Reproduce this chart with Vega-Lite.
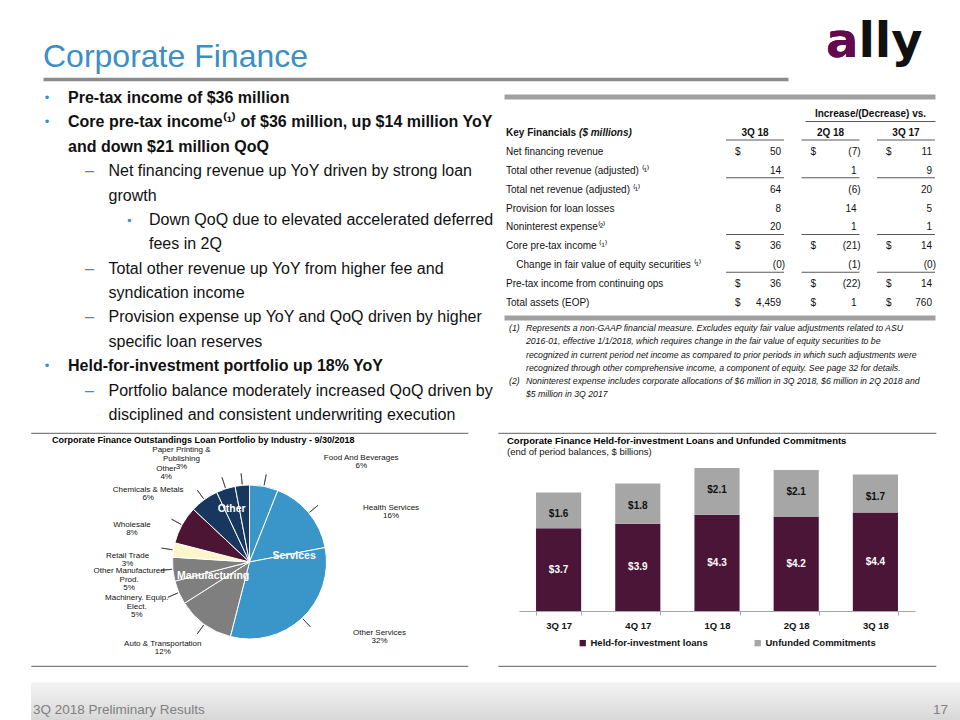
{
  "$schema": "https://vega.github.io/schema/vega-lite/v6.json",
  "padding": {"left": 30, "top": 0, "right": 0, "bottom": 0},
  "background": "#ffffff",
  "spacing": 0,
  "config": {
    "font": "Liberation Sans",
    "view": {"stroke": null},
    "concat": {"spacing": 0},
    "text": {"font": "Liberation Sans", "color": "#111111"},
    "title": {"font": "Liberation Sans", "subtitleFont": "Liberation Sans"},
    "axis": {"labelFont": "Liberation Sans"},
    "legend": {"labelFont": "Liberation Sans"}
  },
  "datasets": {
    "bullets": [
      {"line": 1, "item": 1, "level": 1, "text": "Pre-tax income of $36 million"},
      {"line": 2, "item": 2, "level": 1, "text": "Core pre-tax income⁽¹⁾ of $36 million, up $14 million YoY"},
      {"line": 3, "item": 2, "level": 1, "text": "and down $21 million QoQ"},
      {"line": 4, "item": 3, "level": 2, "text": "Net financing revenue up YoY driven by strong loan"},
      {"line": 5, "item": 3, "level": 2, "text": "growth"},
      {"line": 6, "item": 4, "level": 3, "text": "Down QoQ due to elevated accelerated deferred"},
      {"line": 7, "item": 4, "level": 3, "text": "fees in 2Q"},
      {"line": 8, "item": 5, "level": 2, "text": "Total other revenue up YoY from higher fee and"},
      {"line": 9, "item": 5, "level": 2, "text": "syndication income"},
      {"line": 10, "item": 6, "level": 2, "text": "Provision expense up YoY and QoQ driven by higher"},
      {"line": 11, "item": 6, "level": 2, "text": "specific loan reserves"},
      {"line": 12, "item": 7, "level": 1, "text": "Held-for-investment portfolio up 18% YoY"},
      {"line": 13, "item": 8, "level": 2, "text": "Portfolio balance moderately increased QoQ driven by"},
      {"line": 14, "item": 8, "level": 2, "text": "disciplined and consistent underwriting execution"}
    ],
    "table": [
      {"r": 2, "indent": 0, "cur": true, "label": "Net financing revenue", "3Q 18": "50", "2Q 18": "(7)", "3Q 17": "11"},
      {"r": 3, "indent": 0, "cur": false, "label": "Total other revenue (adjusted) ⁽¹⁾", "3Q 18": "14", "2Q 18": "1", "3Q 17": "9"},
      {"r": 4, "indent": 0, "cur": false, "label": "Total net revenue (adjusted) ⁽¹⁾", "3Q 18": "64", "2Q 18": "(6)", "3Q 17": "20"},
      {"r": 5, "indent": 0, "cur": false, "label": "Provision for loan losses", "3Q 18": "8", "2Q 18": "14", "3Q 17": "5"},
      {"r": 6, "indent": 0, "cur": false, "label": "Noninterest expense⁽²⁾", "3Q 18": "20", "2Q 18": "1", "3Q 17": "1"},
      {"r": 7, "indent": 0, "cur": true, "label": "Core pre-tax income ⁽¹⁾", "3Q 18": "36", "2Q 18": "(21)", "3Q 17": "14"},
      {"r": 8, "indent": 1, "cur": false, "label": "Change in fair value of equity securities ⁽¹⁾", "3Q 18": "(0)", "2Q 18": "(1)", "3Q 17": "(0)"},
      {"r": 9, "indent": 0, "cur": true, "label": "Pre-tax income from continuing ops", "3Q 18": "36", "2Q 18": "(22)", "3Q 17": "14"},
      {"r": 10, "indent": 0, "cur": true, "label": "Total assets (EOP)", "3Q 18": "4,459", "2Q 18": "1", "3Q 17": "760"}
    ],
    "notes": [
      {"line": 1, "note": "(1)", "text": "Represents a non-GAAP financial measure. Excludes equity fair value adjustments related to ASU"},
      {"line": 2, "text": "2016-01, effective 1/1/2018, which requires change in the fair value of equity securities to be"},
      {"line": 3, "text": "recognized in current period net income as compared to prior periods in which such adjustments were"},
      {"line": 4, "text": "recognized through other comprehensive income, a component of equity. See page 32 for details."},
      {"line": 5, "note": "(2)", "text": "Noninterest expense includes corporate allocations of $6 million in 3Q 2018, $6 million in 2Q 2018 and"},
      {"line": 6, "text": "$5 million in 3Q 2017"}
    ],
    "pie": [
      {"name": "Food And Beverages", "group": "Services", "share": 0.06},
      {"name": "Health Services", "group": "Services", "share": 0.16},
      {"name": "Other Services", "group": "Services", "share": 0.32},
      {"name": "Auto & Transportation", "group": "Manufacturing", "share": 0.12},
      {"name": "Machinery. Equip.\nElect.", "group": "Manufacturing", "share": 0.05},
      {"name": "Other Manufactured\nProd.", "group": "Manufacturing", "share": 0.05},
      {"name": "Retail Trade", "group": "Retail Trade", "share": 0.03},
      {"name": "Wholesale", "group": "Wholesale", "share": 0.08},
      {"name": "Chemicals & Metals", "group": "Other", "share": 0.06},
      {"name": "Other", "group": "Other", "share": 0.04},
      {"name": "Paper Printing &\nPublishing", "group": "Other", "share": 0.03}
    ],
    "loans": [
      {"quarter": "3Q 17", "series": "Held-for-investment loans", "value": 3.7},
      {"quarter": "3Q 17", "series": "Unfunded Commitments", "value": 1.6},
      {"quarter": "4Q 17", "series": "Held-for-investment loans", "value": 3.9},
      {"quarter": "4Q 17", "series": "Unfunded Commitments", "value": 1.8},
      {"quarter": "1Q 18", "series": "Held-for-investment loans", "value": 4.3},
      {"quarter": "1Q 18", "series": "Unfunded Commitments", "value": 2.1},
      {"quarter": "2Q 18", "series": "Held-for-investment loans", "value": 4.2},
      {"quarter": "2Q 18", "series": "Unfunded Commitments", "value": 2.1},
      {"quarter": "3Q 18", "series": "Held-for-investment loans", "value": 4.4},
      {"quarter": "3Q 18", "series": "Unfunded Commitments", "value": 1.7}
    ]
  },
  "vconcat": [
    {
      "width": 930,
      "height": 88,
      "data": {"values": [{"title": "Corporate Finance", "logo": "ally"}]},
      "transform": [{"fold": ["title", "logo"], "as": ["part", "text"]}],
      "encoding": {
        "x": {
          "field": "part", "type": "nominal",
          "scale": {"type": "point", "domain": ["title", "logo"], "range": [12, 757], "padding": 0},
          "axis": {"orient": "bottom", "offset": -9, "title": null, "labels": false, "ticks": false, "grid": false, "domainColor": "#8c8c8c", "domainWidth": 3.5}
        }
      },
      "layer": [
        {
          "transform": [{"filter": "datum.part === 'title'"}],
          "mark": {"type": "text", "align": "left", "baseline": "middle", "dy": 12.5, "fontSize": 32, "color": "#3b8fc4"},
          "encoding": {"text": {"field": "text"}}
        },
        {
          "transform": [{"filter": "datum.part === 'logo'"}],
          "mark": {"type": "text", "align": "left", "baseline": "alphabetic", "dx": 38, "dy": 13, "fontSize": 48, "fontWeight": "bold", "font": "DejaVu Sans", "color": "#111111"},
          "encoding": {"text": {"field": "text"}}
        },
        {
          "transform": [{"filter": "datum.part === 'logo'"}],
          "mark": {"type": "text", "text": "a", "align": "left", "baseline": "alphabetic", "dx": 38, "dy": 13, "fontSize": 48, "fontWeight": "bold", "font": "DejaVu Sans", "color": "#64094f"}
        }
      ]
    },
    {
      "hconcat": [
        {
          "width": 473,
          "height": 344,
          "data": {"name": "bullets"},
          "encoding": {
            "x": {"field": "level", "type": "ordinal", "scale": {"type": "point", "domain": [1, 2, 3], "range": [37, 118], "padding": 0}, "axis": null},
            "y": {"field": "line", "type": "ordinal", "scale": {"type": "point", "domain": [1, 2, 3, 4, 5, 6, 7, 8, 9, 10, 11, 12, 13, 14], "range": [10, 327], "padding": 0}, "axis": null}
          },
          "layer": [
            {
              "transform": [{"filter": "datum.level === 1"}],
              "mark": {"type": "text", "align": "left", "baseline": "middle", "fontSize": 16, "fontWeight": "bold", "color": "#111111"},
              "encoding": {"text": {"field": "text"}}
            },
            {
              "transform": [{"filter": "datum.level > 1"}],
              "mark": {"type": "text", "align": "left", "baseline": "middle", "fontSize": 16, "color": "#111111"},
              "encoding": {"text": {"field": "text"}}
            },
            {
              "transform": [{"aggregate": [{"op": "min", "field": "line", "as": "line"}], "groupby": ["item", "level"]}, {"filter": "datum.level === 1"}],
              "mark": {"type": "text", "text": "•", "align": "center", "baseline": "middle", "dx": -21, "fontSize": 13, "color": "#3b8fc4"}
            },
            {
              "transform": [{"aggregate": [{"op": "min", "field": "line", "as": "line"}], "groupby": ["item", "level"]}, {"filter": "datum.level === 2"}],
              "mark": {"type": "text", "text": "–", "align": "center", "baseline": "middle", "dx": -19, "fontSize": 16, "color": "#3b8fc4"}
            },
            {
              "transform": [{"aggregate": [{"op": "min", "field": "line", "as": "line"}], "groupby": ["item", "level"]}, {"filter": "datum.level === 3"}],
              "mark": {"type": "text", "text": "▪", "align": "center", "baseline": "middle", "dx": -20, "fontSize": 12, "color": "#3b8fc4"}
            }
          ]
        },
        {
          "width": 431,
          "height": 344,
          "layer": [
            {
              "data": {"values": [{"r": 1, "indent": 0, "label": "Key Financials", "unit": "($ millions)"}]},
              "mark": {"type": "text", "align": "left", "baseline": "middle", "fontSize": 10, "fontWeight": "bold"},
              "encoding": {
                "x": {"field": "indent", "type": "quantitative", "scale": {"domain": [-0.2, 41.9], "range": [0, 431], "nice": false, "zero": false},
                      "axis": {"orient": "top", "offset": -8.5, "title": null, "labels": false, "ticks": false, "grid": false, "domainColor": "#a0a0a0", "domainWidth": 5}},
                "y": {"field": "r", "type": "ordinal", "scale": {"type": "point", "domain": [0, 1, 2, 3, 4, 5, 6, 7, 8, 9, 10], "range": [26, 215], "padding": 0}, "axis": null},
                "text": {"field": "label"}
              }
            },
            {
              "data": {"values": [{"r": 1, "indent": 0, "label": "Key Financials", "unit": "($ millions)"}]},
              "mark": {"type": "text", "align": "left", "baseline": "middle", "dx": 73, "fontSize": 10, "fontWeight": "bold", "fontStyle": "italic"},
              "encoding": {
                "x": {"field": "indent", "type": "quantitative", "scale": {"domain": [-0.2, 41.9], "range": [0, 431], "nice": false, "zero": false}, "axis": null},
                "y": {"field": "r", "type": "ordinal", "scale": {"type": "point", "domain": [0, 1, 2, 3, 4, 5, 6, 7, 8, 9, 10], "range": [26, 215], "padding": 0}, "axis": null},
                "text": {"field": "unit"}
              }
            },
            {
              "data": {"name": "table"},
              "mark": {"type": "text", "align": "left", "baseline": "middle", "fontSize": 10},
              "encoding": {
                "x": {"field": "indent", "type": "quantitative", "scale": {"domain": [-0.2, 41.9], "range": [0, 431], "nice": false, "zero": false},
                      "axis": {"orient": "bottom", "offset": -114.5, "title": null, "labels": false, "ticks": false, "grid": false, "domainColor": "#a0a0a0", "domainWidth": 5}},
                "y": {"field": "r", "type": "ordinal", "scale": {"type": "point", "domain": [0, 1, 2, 3, 4, 5, 6, 7, 8, 9, 10], "range": [26, 215], "padding": 0}, "axis": null},
                "text": {"field": "label"}
              }
            },
            {
              "data": {"values": [{"r": 1, "col": "3Q 18"}, {"r": 1, "col": "2Q 18"}, {"r": 1, "col": "3Q 17"}]},
              "mark": {"type": "text", "align": "center", "baseline": "middle", "fontSize": 10, "fontWeight": "bold"},
              "encoding": {
                "x": {"field": "col", "type": "nominal", "scale": {"type": "band", "domain": ["3Q 18", "2Q 18", "3Q 17"], "range": [222, 431], "paddingInner": 0.23, "paddingOuter": 0}, "axis": null},
                "y": {"field": "r", "type": "ordinal", "scale": {"type": "point", "domain": [0, 1, 2, 3, 4, 5, 6, 7, 8, 9, 10], "range": [26, 215], "padding": 0}, "axis": null},
                "text": {"field": "col"}
              }
            },
            {
              "data": {"values": [{"r": 1, "col": "3Q 18"}, {"r": 1, "col": "2Q 18"}, {"r": 1, "col": "3Q 17"}]},
              "mark": {"type": "tick", "orient": "horizontal", "size": 58, "thickness": 1, "color": "#111111", "yOffset": 7},
              "encoding": {
                "x": {"field": "col", "type": "nominal", "scale": {"type": "band", "domain": ["3Q 18", "2Q 18", "3Q 17"], "range": [222, 431], "paddingInner": 0.23, "paddingOuter": 0}, "axis": null},
                "y": {"field": "r", "type": "ordinal", "scale": {"type": "point", "domain": [0, 1, 2, 3, 4, 5, 6, 7, 8, 9, 10], "range": [26, 215], "padding": 0}, "axis": null}
              }
            },
            {
              "data": {"values": [{"r": 0, "col": "2Q 18", "text": "Increase/(Decrease) vs."}]},
              "mark": {"type": "text", "align": "center", "baseline": "middle", "dx": 40, "fontSize": 10, "fontWeight": "bold"},
              "encoding": {
                "x": {"field": "col", "type": "nominal", "scale": {"type": "band", "domain": ["3Q 18", "2Q 18", "3Q 17"], "range": [222, 431], "paddingInner": 0.23, "paddingOuter": 0}, "axis": null},
                "y": {"field": "r", "type": "ordinal", "scale": {"type": "point", "domain": [0, 1, 2, 3, 4, 5, 6, 7, 8, 9, 10], "range": [26, 215], "padding": 0}, "axis": null},
                "text": {"field": "text"}
              }
            },
            {
              "data": {"values": [{"r": 0, "col": "2Q 18"}]},
              "mark": {"type": "tick", "orient": "horizontal", "size": 130, "thickness": 1, "color": "#111111", "xOffset": 40, "yOffset": 7.5},
              "encoding": {
                "x": {"field": "col", "type": "nominal", "scale": {"type": "band", "domain": ["3Q 18", "2Q 18", "3Q 17"], "range": [222, 431], "paddingInner": 0.23, "paddingOuter": 0}, "axis": null},
                "y": {"field": "r", "type": "ordinal", "scale": {"type": "point", "domain": [0, 1, 2, 3, 4, 5, 6, 7, 8, 9, 10], "range": [26, 215], "padding": 0}, "axis": null}
              }
            },
            {
              "data": {"name": "table"},
              "transform": [{"fold": ["3Q 18", "2Q 18", "3Q 17"], "as": ["col", "value"]}, {"filter": "indexof(datum.value, ')') >= 0"}],
              "mark": {"type": "text", "align": "right", "baseline": "middle", "dx": 1, "fontSize": 10},
              "encoding": {
                "x": {"field": "col", "type": "nominal", "bandPosition": 1, "scale": {"type": "band", "domain": ["3Q 18", "2Q 18", "3Q 17"], "range": [222, 431], "paddingInner": 0.23, "paddingOuter": 0}, "axis": null},
                "y": {"field": "r", "type": "ordinal", "scale": {"type": "point", "domain": [0, 1, 2, 3, 4, 5, 6, 7, 8, 9, 10], "range": [26, 215], "padding": 0}, "axis": null},
                "text": {"field": "value"}
              }
            },
            {
              "data": {"name": "table"},
              "transform": [{"fold": ["3Q 18", "2Q 18", "3Q 17"], "as": ["col", "value"]}, {"filter": "indexof(datum.value, ')') < 0"}],
              "mark": {"type": "text", "align": "right", "baseline": "middle", "dx": -3, "fontSize": 10},
              "encoding": {
                "x": {"field": "col", "type": "nominal", "bandPosition": 1, "scale": {"type": "band", "domain": ["3Q 18", "2Q 18", "3Q 17"], "range": [222, 431], "paddingInner": 0.23, "paddingOuter": 0}, "axis": null},
                "y": {"field": "r", "type": "ordinal", "scale": {"type": "point", "domain": [0, 1, 2, 3, 4, 5, 6, 7, 8, 9, 10], "range": [26, 215], "padding": 0}, "axis": null},
                "text": {"field": "value"}
              }
            },
            {
              "data": {"name": "table"},
              "transform": [{"filter": "datum.cur"}, {"fold": ["3Q 18", "2Q 18", "3Q 17"], "as": ["col", "value"]}],
              "mark": {"type": "text", "text": "$", "align": "left", "baseline": "middle", "dx": 9, "fontSize": 10},
              "encoding": {
                "x": {"field": "col", "type": "nominal", "bandPosition": 0, "scale": {"type": "band", "domain": ["3Q 18", "2Q 18", "3Q 17"], "range": [222, 431], "paddingInner": 0.23, "paddingOuter": 0}, "axis": null},
                "y": {"field": "r", "type": "ordinal", "scale": {"type": "point", "domain": [0, 1, 2, 3, 4, 5, 6, 7, 8, 9, 10], "range": [26, 215], "padding": 0}, "axis": null}
              }
            },
            {
              "data": {"name": "table"},
              "transform": [{"filter": "indexof([3, 6, 8], datum.r) >= 0"}, {"fold": ["3Q 18", "2Q 18", "3Q 17"], "as": ["col", "value"]}],
              "mark": {"type": "tick", "orient": "horizontal", "size": 58, "thickness": 1, "color": "#111111", "yOffset": 7},
              "encoding": {
                "x": {"field": "col", "type": "nominal", "scale": {"type": "band", "domain": ["3Q 18", "2Q 18", "3Q 17"], "range": [222, 431], "paddingInner": 0.23, "paddingOuter": 0}, "axis": null},
                "y": {"field": "r", "type": "ordinal", "scale": {"type": "point", "domain": [0, 1, 2, 3, 4, 5, 6, 7, 8, 9, 10], "range": [26, 215], "padding": 0}, "axis": null}
              }
            },
            {
              "data": {"name": "notes"},
              "transform": [{"fold": ["note", "text"], "as": ["part", "value"]}, {"filter": "isValid(datum.value)"}],
              "mark": {"type": "text", "align": "left", "baseline": "middle", "fontSize": 8.7, "fontStyle": "italic", "color": "#111111"},
              "encoding": {
                "x": {"field": "part", "type": "nominal", "scale": {"type": "point", "domain": ["note", "text"], "range": [5, 22], "padding": 0}, "axis": null},
                "y": {"field": "line", "type": "ordinal", "scale": {"type": "point", "domain": [1, 2, 3, 4, 5, 6], "range": [240.3, 306], "padding": 0}, "axis": null},
                "text": {"field": "value"}
              }
            }
          ],
          "resolve": {"scale": {"x": "independent", "y": "independent"}, "axis": {"x": "independent", "y": "independent"}}
        }
      ],
      "spacing": 0,
      "bounds": "flush"
    },
    {
      "hconcat": [
        {
          "width": 437,
          "height": 233,
          "view": {"stroke": "#7f7f7f", "strokeWidth": 1.2, "strokeDash": [437, 233, 437, 233]},
          "title": {"text": "Corporate Finance Outstandings Loan Portfolio by Industry - 9/30/2018", "anchor": "start", "frame": "group", "dx": 21, "offset": -11.5, "fontSize": 9, "fontWeight": "bold", "color": "#000000"},
          "data": {"name": "pie"},
          "transform": [{"window": [{"op": "row_number", "as": "idx"}]}],
          "encoding": {
            "x": {"datum": 0, "type": "quantitative", "scale": {"domain": [-1, 1], "nice": false, "zero": false}, "axis": null},
            "y": {"datum": 0, "type": "quantitative", "scale": {"domain": [-0.8064, 1], "nice": false, "zero": false}, "axis": null},
            "theta": {"field": "share", "type": "quantitative", "stack": true},
            "order": {"field": "idx", "type": "quantitative"}
          },
          "layer": [
            {
              "mark": {"type": "arc", "outerRadius": 77, "stroke": "#ffffff", "strokeWidth": 1},
              "encoding": {
                "color": {"field": "group", "type": "nominal", "scale": {"domain": ["Services", "Manufacturing", "Retail Trade", "Wholesale", "Other"], "range": ["#3a96c8", "#7f7f7f", "#fdf5cb", "#4b1533", "#17375e"]}, "legend": null}
              }
            },
            {
              "mark": {"type": "arc", "innerRadius": 78, "outerRadius": 89, "padAngle": 3, "fillOpacity": 0, "stroke": "#333333", "strokeWidth": 0.7}
            },
            {
              "mark": {"type": "text", "radius": 150, "align": "center", "baseline": "bottom", "fontSize": 8, "color": "#111111", "clip": true},
              "encoding": {
                "theta": {"field": "share", "type": "quantitative", "stack": true, "scale": {"range": [0.733, 4.311]}},
                "text": {"field": "name"},
                "opacity": {"condition": {"test": "datum.group === 'Services'", "value": 1}, "value": 0}
              }
            },
            {
              "mark": {"type": "text", "radius": 150, "align": "center", "baseline": "top", "fontSize": 8, "color": "#111111", "clip": true},
              "encoding": {
                "theta": {"field": "share", "type": "quantitative", "stack": true, "scale": {"range": [0.733, 4.311]}},
                "text": {"field": "share", "type": "quantitative", "format": ".0%"},
                "opacity": {"condition": {"test": "datum.group === 'Services'", "value": 1}, "value": 0}
              }
            },
            {
              "mark": {"type": "text", "radius": 122, "align": "center", "baseline": "bottom", "fontSize": 8, "color": "#111111", "clip": true},
              "encoding": {
                "theta": {"field": "share", "type": "quantitative", "stack": true, "scale": {"range": [1.19, 5.76]}},
                "text": {"field": "name"},
                "opacity": {"condition": {"test": "datum.group !== 'Services' && indexof(datum.name, '\\n') < 0", "value": 1}, "value": 0}
              }
            },
            {
              "mark": {"type": "text", "radius": 122, "align": "center", "baseline": "top", "fontSize": 8, "color": "#111111", "clip": true},
              "encoding": {
                "theta": {"field": "share", "type": "quantitative", "stack": true, "scale": {"range": [1.19, 5.76]}},
                "text": {"field": "share", "type": "quantitative", "format": ".0%"},
                "opacity": {"condition": {"test": "datum.group !== 'Services' && indexof(datum.name, '\\n') < 0", "value": 1}, "value": 0}
              }
            },
            {
              "mark": {"type": "text", "radius": 122, "align": "center", "baseline": "bottom", "dy": -7, "lineBreak": "\n", "lineHeight": 9, "fontSize": 8, "color": "#111111", "clip": true},
              "encoding": {
                "theta": {"field": "share", "type": "quantitative", "stack": true, "scale": {"range": [1.19, 5.76]}},
                "text": {"field": "name"},
                "opacity": {"condition": {"test": "indexof(datum.name, '\\n') >= 0", "value": 1}, "value": 0}
              }
            },
            {
              "mark": {"type": "text", "radius": 122, "align": "center", "baseline": "top", "dy": 2, "fontSize": 8, "color": "#111111", "clip": true},
              "encoding": {
                "theta": {"field": "share", "type": "quantitative", "stack": true, "scale": {"range": [1.19, 5.76]}},
                "text": {"field": "share", "type": "quantitative", "format": ".0%"},
                "opacity": {"condition": {"test": "indexof(datum.name, '\\n') >= 0", "value": 1}, "value": 0}
              }
            },
            {
              "transform": [{"aggregate": [{"op": "sum", "field": "share", "as": "share"}, {"op": "min", "field": "idx", "as": "idx"}], "groupby": ["group"]}],
              "mark": {"type": "text", "radius": 45, "dy": -12, "align": "center", "baseline": "middle", "fontSize": 10.5, "fontWeight": "bold", "color": "#ffffff", "clip": true},
              "encoding": {
                "theta": {"field": "share", "type": "quantitative", "stack": true},
                "order": {"field": "idx", "type": "quantitative"},
                "text": {"field": "group"},
                "opacity": {"condition": {"test": "datum.group === 'Services' || datum.group === 'Manufacturing' || datum.group === 'Other'", "value": 1}, "value": 0}
              }
            }
          ],
          "resolve": {"scale": {"theta": "independent"}}
        },
        {
          "width": 438,
          "height": 233,
          "view": {"stroke": "#7f7f7f", "strokeWidth": 1.2, "strokeDash": [438, 233, 438, 233]},
          "title": {"text": "Corporate Finance Held-for-investment Loans and Unfunded Commitments", "subtitle": "(end of period balances, $ billions)", "anchor": "start", "frame": "group", "dx": 9, "offset": -23, "fontSize": 9.5, "fontWeight": "bold", "color": "#000000", "subtitleFontSize": 9.5, "subtitleColor": "#111111", "subtitlePadding": 1},
          "data": {"name": "loans"},
          "encoding": {
            "x": {
              "field": "quarter", "type": "nominal", "sort": ["3Q 17", "4Q 17", "1Q 18", "2Q 18", "3Q 18"],
              "scale": {"type": "band", "range": [21, 417], "paddingInner": 0.43, "paddingOuter": 0.215},
              "axis": {"orient": "bottom", "offset": -55, "title": null, "labelAngle": 0, "labelFontSize": 9.5, "labelFontWeight": "bold", "labelColor": "#111111", "labelPadding": 5, "domainColor": "#a6a6a6", "tickColor": "#a6a6a6", "tickSize": 4, "tickBand": "extent", "grid": false}
            }
          },
          "layer": [
            {
              "mark": {"type": "bar"},
              "encoding": {
                "y": {"field": "value", "type": "quantitative", "stack": "zero", "scale": {"domain": [0, 7.96], "range": [178, 0], "nice": false}, "axis": null},
                "color": {
                  "field": "series", "type": "nominal",
                  "scale": {"domain": ["Held-for-investment loans", "Unfunded Commitments"], "range": ["#4b1538", "#a6a6a6"]},
                  "legend": {"orient": "none", "legendX": 80, "legendY": 205, "direction": "horizontal", "title": null, "symbolType": "square", "symbolSize": 40, "symbolStrokeWidth": 0, "labelFontSize": 9.5, "labelFontWeight": "bold", "labelColor": "#111111", "labelOffset": 3, "columnPadding": 45, "padding": 0}
                },
                "order": {"field": "series", "type": "nominal", "sort": "ascending"}
              }
            },
            {
              "mark": {"type": "text", "baseline": "middle", "dy": 22, "fontSize": 10, "fontWeight": "bold", "color": "#111111"},
              "encoding": {
                "y": {"field": "value", "type": "quantitative", "stack": "zero", "scale": {"domain": [0, 7.96], "range": [178, 0], "nice": false}, "axis": null},
                "order": {"field": "series", "type": "nominal", "sort": "ascending"},
                "text": {"condition": {"test": "datum.series === 'Unfunded Commitments'", "field": "value", "type": "quantitative", "format": "$.1f"}, "value": ""}
              }
            },
            {
              "transform": [{"filter": "datum.series === 'Held-for-investment loans'"}],
              "mark": {"type": "text", "baseline": "middle", "fontSize": 10, "fontWeight": "bold", "color": "#ffffff"},
              "encoding": {
                "y": {"field": "value", "type": "quantitative", "stack": null, "scale": {"domain": [0, 15.92], "range": [178, 0], "nice": false}, "axis": null},
                "text": {"field": "value", "type": "quantitative", "format": "$.1f"}
              }
            }
          ],
          "resolve": {"scale": {"y": "independent"}}
        }
      ],
      "spacing": 30,
      "bounds": "flush",
      "resolve": {"scale": {"color": "independent"}, "legend": {"color": "independent"}}
    },
    {
      "width": 930,
      "height": 55,
      "view": {"stroke": null, "fill": {"gradient": "linear", "x1": 0, "y1": 0, "x2": 0, "y2": 1, "stops": [{"offset": 0, "color": "#ffffff"}, {"offset": 0.27, "color": "#ffffff"}, {"offset": 0.29, "color": "#f3f3f3"}, {"offset": 1, "color": "#d6d6d6"}]}},
      "data": {"values": [{"deck": "3Q 2018 Preliminary Results", "page": "17"}]},
      "transform": [{"fold": ["deck", "page"], "as": ["part", "text"]}],
      "encoding": {
        "x": {"field": "part", "type": "nominal", "scale": {"type": "point", "domain": ["deck", "page"], "range": [2, 917], "padding": 0}, "axis": null},
        "text": {"field": "text"}
      },
      "layer": [
        {"transform": [{"filter": "datum.part === 'deck'"}], "mark": {"type": "text", "align": "left", "baseline": "middle", "dy": 15.5, "fontSize": 13.5, "color": "#7f7f7f"}},
        {"transform": [{"filter": "datum.part === 'page'"}], "mark": {"type": "text", "align": "right", "baseline": "middle", "dy": 15.5, "fontSize": 13.5, "color": "#7f7f7f"}}
      ]
    }
  ]
}
